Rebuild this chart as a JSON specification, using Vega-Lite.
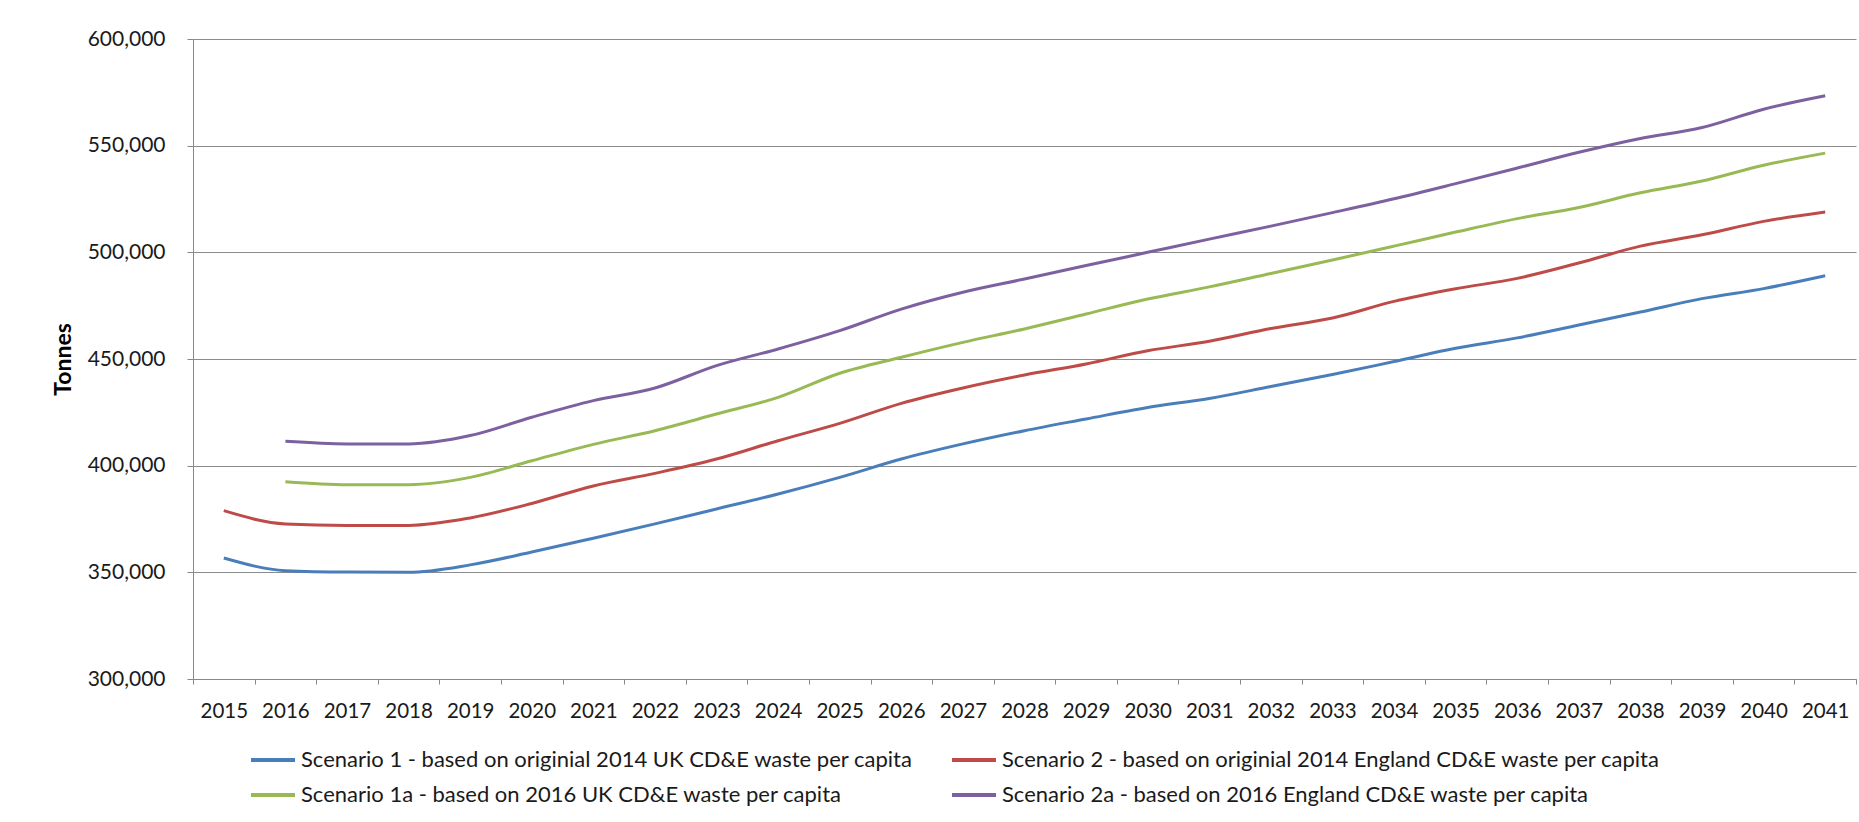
{
  "$schema": "https://vega.github.io/schema/vega-lite/v6.json",
  "autosize": {"type": "none"},
  "padding": {"left": 193, "top": 39, "right": 3, "bottom": 143},
  "width": 1663,
  "height": 640,
  "background": "white",
  "config": {"font": "Lato", "view": {"stroke": null}},
  "data": {
    "values": [
      {"Year": "2015", "Scenario 1 - based on originial 2014 UK CD&E waste per capita": 356700, "Scenario 2 - based on originial 2014 England CD&E waste per capita": 378900},
      {"Year": "2016", "Scenario 1 - based on originial 2014 UK CD&E waste per capita": 350800, "Scenario 2 - based on originial 2014 England CD&E waste per capita": 372700, "Scenario 1a - based on 2016 UK CD&E waste per capita": 392500, "Scenario 2a - based on 2016 England CD&E waste per capita": 411400},
      {"Year": "2017", "Scenario 1 - based on originial 2014 UK CD&E waste per capita": 350100, "Scenario 2 - based on originial 2014 England CD&E waste per capita": 372000, "Scenario 1a - based on 2016 UK CD&E waste per capita": 391100, "Scenario 2a - based on 2016 England CD&E waste per capita": 410200},
      {"Year": "2018", "Scenario 1 - based on originial 2014 UK CD&E waste per capita": 350000, "Scenario 2 - based on originial 2014 England CD&E waste per capita": 372000, "Scenario 1a - based on 2016 UK CD&E waste per capita": 391100, "Scenario 2a - based on 2016 England CD&E waste per capita": 410200},
      {"Year": "2019", "Scenario 1 - based on originial 2014 UK CD&E waste per capita": 353500, "Scenario 2 - based on originial 2014 England CD&E waste per capita": 375500, "Scenario 1a - based on 2016 UK CD&E waste per capita": 394500, "Scenario 2a - based on 2016 England CD&E waste per capita": 414100},
      {"Year": "2020", "Scenario 1 - based on originial 2014 UK CD&E waste per capita": 359500, "Scenario 2 - based on originial 2014 England CD&E waste per capita": 382300, "Scenario 1a - based on 2016 UK CD&E waste per capita": 402300, "Scenario 2a - based on 2016 England CD&E waste per capita": 422700},
      {"Year": "2021", "Scenario 1 - based on originial 2014 UK CD&E waste per capita": 366000, "Scenario 2 - based on originial 2014 England CD&E waste per capita": 390500, "Scenario 1a - based on 2016 UK CD&E waste per capita": 410000, "Scenario 2a - based on 2016 England CD&E waste per capita": 430500},
      {"Year": "2022", "Scenario 1 - based on originial 2014 UK CD&E waste per capita": 372700, "Scenario 2 - based on originial 2014 England CD&E waste per capita": 396400, "Scenario 1a - based on 2016 UK CD&E waste per capita": 416400, "Scenario 2a - based on 2016 England CD&E waste per capita": 436400},
      {"Year": "2023", "Scenario 1 - based on originial 2014 UK CD&E waste per capita": 379700, "Scenario 2 - based on originial 2014 England CD&E waste per capita": 403100, "Scenario 1a - based on 2016 UK CD&E waste per capita": 424200, "Scenario 2a - based on 2016 England CD&E waste per capita": 446900},
      {"Year": "2024", "Scenario 1 - based on originial 2014 UK CD&E waste per capita": 386700, "Scenario 2 - based on originial 2014 England CD&E waste per capita": 411700, "Scenario 1a - based on 2016 UK CD&E waste per capita": 432000, "Scenario 2a - based on 2016 England CD&E waste per capita": 454700},
      {"Year": "2025", "Scenario 1 - based on originial 2014 UK CD&E waste per capita": 394500, "Scenario 2 - based on originial 2014 England CD&E waste per capita": 419800, "Scenario 1a - based on 2016 UK CD&E waste per capita": 443300, "Scenario 2a - based on 2016 England CD&E waste per capita": 463300},
      {"Year": "2026", "Scenario 1 - based on originial 2014 UK CD&E waste per capita": 403100, "Scenario 2 - based on originial 2014 England CD&E waste per capita": 429200, "Scenario 1a - based on 2016 UK CD&E waste per capita": 450800, "Scenario 2a - based on 2016 England CD&E waste per capita": 473400},
      {"Year": "2027", "Scenario 1 - based on originial 2014 UK CD&E waste per capita": 410200, "Scenario 2 - based on originial 2014 England CD&E waste per capita": 436400, "Scenario 1a - based on 2016 UK CD&E waste per capita": 457800, "Scenario 2a - based on 2016 England CD&E waste per capita": 481300},
      {"Year": "2028", "Scenario 1 - based on originial 2014 UK CD&E waste per capita": 416400, "Scenario 2 - based on originial 2014 England CD&E waste per capita": 442500, "Scenario 1a - based on 2016 UK CD&E waste per capita": 464100, "Scenario 2a - based on 2016 England CD&E waste per capita": 487500},
      {"Year": "2029", "Scenario 1 - based on originial 2014 UK CD&E waste per capita": 421900, "Scenario 2 - based on originial 2014 England CD&E waste per capita": 447700, "Scenario 1a - based on 2016 UK CD&E waste per capita": 471100, "Scenario 2a - based on 2016 England CD&E waste per capita": 493800},
      {"Year": "2030", "Scenario 1 - based on originial 2014 UK CD&E waste per capita": 427300, "Scenario 2 - based on originial 2014 England CD&E waste per capita": 453900, "Scenario 1a - based on 2016 UK CD&E waste per capita": 478100, "Scenario 2a - based on 2016 England CD&E waste per capita": 500000},
      {"Year": "2031", "Scenario 1 - based on originial 2014 UK CD&E waste per capita": 431500, "Scenario 2 - based on originial 2014 England CD&E waste per capita": 458300, "Scenario 1a - based on 2016 UK CD&E waste per capita": 483800, "Scenario 2a - based on 2016 England CD&E waste per capita": 506200},
      {"Year": "2032", "Scenario 1 - based on originial 2014 UK CD&E waste per capita": 437100, "Scenario 2 - based on originial 2014 England CD&E waste per capita": 464300, "Scenario 1a - based on 2016 UK CD&E waste per capita": 490100, "Scenario 2a - based on 2016 England CD&E waste per capita": 512300},
      {"Year": "2033", "Scenario 1 - based on originial 2014 UK CD&E waste per capita": 442700, "Scenario 2 - based on originial 2014 England CD&E waste per capita": 469200, "Scenario 1a - based on 2016 UK CD&E waste per capita": 496400, "Scenario 2a - based on 2016 England CD&E waste per capita": 518600},
      {"Year": "2034", "Scenario 1 - based on originial 2014 UK CD&E waste per capita": 448800, "Scenario 2 - based on originial 2014 England CD&E waste per capita": 477000, "Scenario 1a - based on 2016 UK CD&E waste per capita": 502900, "Scenario 2a - based on 2016 England CD&E waste per capita": 525100},
      {"Year": "2035", "Scenario 1 - based on originial 2014 UK CD&E waste per capita": 455000, "Scenario 2 - based on originial 2014 England CD&E waste per capita": 482900, "Scenario 1a - based on 2016 UK CD&E waste per capita": 509500, "Scenario 2a - based on 2016 England CD&E waste per capita": 532200},
      {"Year": "2036", "Scenario 1 - based on originial 2014 UK CD&E waste per capita": 459900, "Scenario 2 - based on originial 2014 England CD&E waste per capita": 487800, "Scenario 1a - based on 2016 UK CD&E waste per capita": 515800, "Scenario 2a - based on 2016 England CD&E waste per capita": 539500},
      {"Year": "2037", "Scenario 1 - based on originial 2014 UK CD&E waste per capita": 465900, "Scenario 2 - based on originial 2014 England CD&E waste per capita": 495000, "Scenario 1a - based on 2016 UK CD&E waste per capita": 521000, "Scenario 2a - based on 2016 England CD&E waste per capita": 546900},
      {"Year": "2038", "Scenario 1 - based on originial 2014 UK CD&E waste per capita": 472000, "Scenario 2 - based on originial 2014 England CD&E waste per capita": 502900, "Scenario 1a - based on 2016 UK CD&E waste per capita": 527900, "Scenario 2a - based on 2016 England CD&E waste per capita": 553400},
      {"Year": "2039", "Scenario 1 - based on originial 2014 UK CD&E waste per capita": 478300, "Scenario 2 - based on originial 2014 England CD&E waste per capita": 508200, "Scenario 1a - based on 2016 UK CD&E waste per capita": 533400, "Scenario 2a - based on 2016 England CD&E waste per capita": 558500},
      {"Year": "2040", "Scenario 1 - based on originial 2014 UK CD&E waste per capita": 483000, "Scenario 2 - based on originial 2014 England CD&E waste per capita": 514500, "Scenario 1a - based on 2016 UK CD&E waste per capita": 540800, "Scenario 2a - based on 2016 England CD&E waste per capita": 567100},
      {"Year": "2041", "Scenario 1 - based on originial 2014 UK CD&E waste per capita": 489000, "Scenario 2 - based on originial 2014 England CD&E waste per capita": 518900, "Scenario 1a - based on 2016 UK CD&E waste per capita": 546500, "Scenario 2a - based on 2016 England CD&E waste per capita": 573400}
    ]
  },
  "transform": [
    {"fold": [
      "Scenario 1 - based on originial 2014 UK CD&E waste per capita",
      "Scenario 2 - based on originial 2014 England CD&E waste per capita",
      "Scenario 1a - based on 2016 UK CD&E waste per capita",
      "Scenario 2a - based on 2016 England CD&E waste per capita"
    ], "as": ["Scenario", "Tonnes"]},
    {"filter": "isValid(datum.Tonnes)"}
  ],
  "mark": {"type": "line", "strokeWidth": 3, "interpolate": "monotone"},
  "encoding": {
    "x": {
      "field": "Year", "type": "ordinal", "bandPosition": 0.5,
      "scale": {"type": "band", "paddingInner": 0, "paddingOuter": 0},
      "axis": {
        "title": null, "labelAngle": 0, "tickBand": "extent", "tickSize": 5,
        "tickColor": "#888888", "domainColor": "#888888", "labelFontSize": 20.5,
        "labelColor": "#1a1a1a", "labelPadding": 17, "grid": false
      }
    },
    "y": {
      "field": "Tonnes", "type": "quantitative",
      "scale": {"domain": [300000, 600000], "nice": false, "zero": false},
      "axis": {
        "title": "Tonnes", "titleFontSize": 23, "titleFontWeight": "bold", "titleColor": "#000000",
        "titlePadding": 12, "values": [300000, 350000, 400000, 450000, 500000, 550000, 600000],
        "format": ",.0f", "labelFontSize": 21, "labelColor": "#1a1a1a", "tickSize": 6, "labelPadding": 22,
        "gridColor": "#8c8c8c", "gridOpacity": 1, "domainColor": "#888888", "tickColor": "#888888"
      }
    },
    "color": {
      "field": "Scenario", "type": "nominal",
      "scale": {
        "domain": [
          "Scenario 1 - based on originial 2014 UK CD&E waste per capita",
          "Scenario 2 - based on originial 2014 England CD&E waste per capita",
          "Scenario 1a - based on 2016 UK CD&E waste per capita",
          "Scenario 2a - based on 2016 England CD&E waste per capita"
        ],
        "range": ["#4A7EBB", "#BE4B48", "#98B954", "#7D60A0"]
      },
      "legend": {
        "orient": "none", "direction": "horizontal", "legendX": 56, "legendY": 697, "columns": 2, "title": null,
        "symbolType": "stroke", "symbolSize": 1936, "symbolStrokeWidth": 4,
        "labelFontSize": 22, "labelColor": "#1a1a1a", "labelOffset": 4,
        "columnPadding": 31, "rowPadding": -2, "labelLimit": 800
      }
    }
  }
}
